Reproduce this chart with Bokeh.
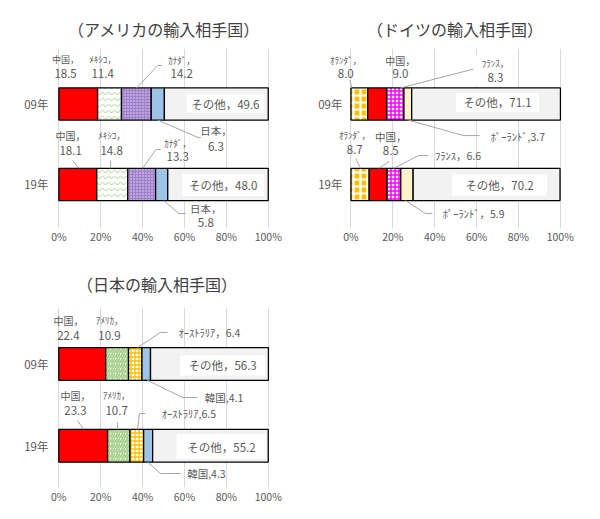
import numpy as np
from bokeh.plotting import figure
from bokeh.models import Range1d, FixedTicker, ColumnDataSource, LabelSet
from bokeh.core.properties import value, field
from bokeh.layouts import column, row
from bokeh.embed import file_html
from bokeh.resources import INLINE

# ---------------- data ----------------
years = ["09年", "19年"]
year_pos = [1, 0]
x_ticks = [0, 20, 40, 60, 80, 100]
x_tick_labels = ["0%", "20%", "40%", "60%", "80%", "100%"]

us_title = "（アメリカの輸入相手国）"
us_names = ["中国", "ﾒｷｼｺ", "ｶﾅﾀﾞ", "日本", "その他"]
us_09 = [18.5, 11.4, 14.2, 6.3, 49.6]
us_19 = [18.1, 14.8, 13.3, 5.8, 48.0]

de_title = "（ドイツの輸入相手国）"
de_names = ["ｵﾗﾝﾀﾞ", "中国", "ﾌﾗﾝｽ", "ﾎﾟｰﾗﾝﾄﾞ", "その他"]
de_09 = [8.0, 9.0, 8.3, 3.7, 71.1]
de_19 = [8.7, 8.5, 6.6, 5.9, 70.2]

jp_title = "（日本の輸入相手国）"
jp_names = ["中国", "ｱﾒﾘｶ", "ｵｰｽﾄﾗﾘｱ", "韓国", "その他"]
jp_09 = [22.4, 10.9, 6.4, 4.1, 56.3]
jp_19 = [23.3, 10.7, 6.5, 4.3, 55.2]

# ---------------- styles ----------------
FONT = "Noto Sans CJK JP"
TXT = "#595959"
RED = dict(fill_color="#FF0000")
BLUE = dict(fill_color="#9DC3E6")
GRAY = dict(fill_color="#F2F2F2")
CREAM = dict(fill_color="#FFF2CC")
WAVE_GREEN = dict(fill_color="white", hatch_pattern="horizontal_wave", hatch_color="#A9D18E", hatch_scale=6, hatch_weight=1)
DOT_PURPLE = dict(fill_color="#A080CC", hatch_pattern="dot", hatch_color="#E8DDF4", hatch_scale=3, hatch_weight=1.2)
CHECK_ORANGE = dict(fill_color="#FFC000", hatch_pattern="cross", hatch_color="white", hatch_scale=7, hatch_weight=2.2)
GRID_MAGENTA = dict(fill_color="white", hatch_pattern="cross", hatch_color="#FF00FF", hatch_scale=4, hatch_weight=1.5)
DIAG_GREEN = dict(fill_color="white", hatch_pattern="right_diagonal_line", hatch_color="#A9D18E", hatch_scale=5, hatch_weight=2)
GRID_YELLOW = dict(fill_color="white", hatch_pattern="cross", hatch_color="#FFC000", hatch_scale=4, hatch_weight=1.3)

us_styles = [RED, WAVE_GREEN, DOT_PURPLE, BLUE, GRAY]
de_styles = [CHECK_ORANGE, RED, GRID_MAGENTA, CREAM, GRAY]
jp_styles = [RED, DIAG_GREEN, GRID_YELLOW, BLUE, GRAY]

# label layout: (year index, segment index, kind, x, y1, y2/sep, name size)
us_labels = [
    (0, 0, "two", 3.2, 1.553, 1.379, "9px"),
    (0, 1, "two", 20.9, 1.553, 1.379, "9px"),
    (0, 2, "two", 58.7, 1.541, 1.379, "9px"),
    (0, 3, "two", 75.0, 0.671, 0.472, "10.5px"),
    (1, 0, "two", 5.6, 0.608, 0.422, "10px"),
    (1, 1, "two", 25.2, 0.608, 0.422, "9px"),
    (1, 2, "two", 56.8, 0.509, 0.347, "9px"),
    (1, 3, "two", 70.2, -0.299, -0.473, "10.5px"),
    (0, 4, "one", 79.5, 1.006, "，", "11.5px"),
    (1, 4, "one", 78.5, -0.006, "，", "11.5px"),
]
us_boxes = [(79.5, 1.006, 77, 18), (78.5, -0.006, 82, 22)]
us_leaders = [
    ([49.2, 47.2, 37.2], [1.479, 1.479, 1.2]),
    ([47.3, 66.4, 67.8], [0.8, 0.584, 0.584]),
    ([6.6, 9.4], [0.298, 0.2]),
    ([24.7, 24.7], [0.298, 0.2]),
    ([48.7, 46.3, 40.0], [0.434, 0.434, 0.2]),
    ([50.1, 57.3, 60.6], [-0.2, -0.361, -0.361]),
]

de_labels = [
    (0, 0, "two", -2.5, 1.541, 1.379, "9px"),
    (0, 1, "two", 23.6, 1.541, 1.379, "10px"),
    (0, 2, "two", 69.0, 1.503, 1.329, "9px"),
    (0, 3, "one", 79.8, 0.596, ",", "10.5px"),
    (1, 0, "two", 1.8, 0.608, 0.434, "9px"),
    (1, 1, "two", 19.0, 0.596, 0.422, "10.5px"),
    (1, 2, "one", 51.2, 0.36, "，", "10.5px"),
    (1, 3, "one", 58.6, -0.361, "，", "10.5px"),
    (0, 4, "one", 70.0, 1.019, "，", "11.5px"),
    (1, 4, "one", 71.0, -0.006, "，", "11.5px"),
]
de_boxes = [(69.0, 1.416, 44, 30), (70.0, 1.019, 83, 19), (71.0, -0.006, 95, 21)]
de_leaders = [
    ([-0.6, 0.4], [1.30, 1.2]),
    ([23.7, 59.5, 60.9], [1.2, 1.441, 1.441]),
    ([27.5, 53.8, 61.5], [0.8, 0.608, 0.608]),
    ([2.3, 4.6], [0.322, 0.2]),
    ([18.2, 13.2], [0.285, 0.2]),
    ([20.4, 32.3, 37.0], [0.2, 0.36, 0.36]),
    ([26.1, 35.6, 38.9], [-0.2, -0.361, -0.361]),
]

jp_labels = [
    (0, 0, "two", 4.6, 1.532, 1.348, "10px"),
    (0, 1, "two", 24.2, 1.532, 1.348, "9px"),
    (0, 2, "one", 71.9, 1.385, "，", "10.5px"),
    (0, 3, "one", 78.9, 0.590, ",", "10.5px"),
    (1, 0, "two", 8.0, 0.615, 0.432, "10px"),
    (1, 1, "two", 27.6, 0.615, 0.432, "9px"),
    (1, 2, "one", 62.1, 0.395, ",", "10.5px"),
    (1, 3, "one", 70.5, -0.339, ",", "10.5px"),
    (0, 4, "one", 78.2, 0.982, "，", "11.5px"),
    (1, 4, "one", 77.7, -0.009, "，", "11.5px"),
]
jp_boxes = [(78.2, 0.982, 85, 20), (77.7, -0.009, 90, 25)]
jp_leaders = [
    ([37.6, 48.5, 51.9], [1.2, 1.385, 1.385]),
    ([42.4, 59.0, 66.2], [0.8, 0.590, 0.590]),
    ([8.9, 11.8], [0.309, 0.2]),
    ([28.0, 28.0], [0.285, 0.2]),
    ([37.6, 38.5, 41.4], [0.2, 0.395, 0.395]),
    ([42.4, 48.5, 58.1], [-0.2, -0.339, -0.339]),
]


def build(title, names, v09, v19, styles, labels, boxes, leaders,
          width, height, x0, ybot, left, top, bottom, y_standoff, x_standoff,
          title_padding):
    p = figure(width=width, height=height, output_backend="svg", toolbar_location=None,
               x_range=Range1d(x0, 100.6), y_range=Range1d(ybot, 1.69),
               min_border_left=left, min_border_right=31,
               min_border_top=top, min_border_bottom=bottom)
    p.outline_line_color = None
    p.background_fill_color = "white"
    p.border_fill_color = "white"
    p.title.text = title
    p.title.align = "center"
    p.title.text_font = FONT
    p.title.text_font_size = "16px"
    p.title.text_font_style = "normal"
    p.title.text_color = "#404040"
    p.title.padding = title_padding

    p.xaxis.ticker = FixedTicker(ticks=x_ticks)
    p.xaxis.major_label_overrides = dict(zip(x_ticks, x_tick_labels))
    p.yaxis.ticker = FixedTicker(ticks=year_pos)
    p.yaxis.major_label_overrides = dict(zip(year_pos, years))
    for ax in (p.xaxis, p.yaxis):
        ax.axis_line_color = None
        ax.major_tick_line_color = None
        ax.minor_tick_line_color = None
        ax.major_tick_in = 0
        ax.major_tick_out = 0
        ax.major_label_text_font = FONT
        ax.major_label_text_color = TXT
    p.xaxis.major_label_text_font_size = "10.5px"
    p.xaxis.major_label_standoff = x_standoff
    p.yaxis.major_label_text_font_size = "11.5px"
    p.yaxis.major_label_standoff = y_standoff
    p.xgrid.grid_line_color = "#D9D9D9"
    p.xgrid.ticker = FixedTicker(ticks=x_ticks)
    p.ygrid.visible = False

    vals = [v09, v19]
    cums = [np.concatenate([[0.0], np.cumsum(v)]) for v in vals]
    for i, st in enumerate(styles):
        p.hbar(y=year_pos, left=[cums[0][i], cums[1][i]],
               right=[cums[0][i + 1], cums[1][i + 1]], height=0.4,
               line_color="black", line_width=1.3, **st)

    p.multi_line(xs=[l[0] for l in leaders], ys=[l[1] for l in leaders],
                 line_color="#A6A6A6", line_width=1)

    p.rect(x=[b[0] for b in boxes], y=[b[1] for b in boxes],
           width=[b[2] for b in boxes], height=[b[3] for b in boxes],
           width_units="screen", height_units="screen",
           fill_color="white", line_color=None)

    xs, ys, texts, sizes = [], [], [], []
    for (yi, si, kind, x, y1, y2, nsize) in labels:
        v = vals[yi][si]
        if kind == "two":
            xs += [x, x]
            ys += [y1, y2]
            texts += [names[si] + "，", f"{v:.1f}"]
            sizes += [nsize, "11.5px"]
        else:
            xs.append(x)
            ys.append(y1)
            texts.append(names[si] + y2 + f"{v:.1f}")
            sizes.append(nsize)
    src = ColumnDataSource(dict(x=xs, y=ys, text=texts, size=sizes))
    p.add_layout(LabelSet(x="x", y="y", text="text", source=src,
                          text_font=value(FONT), text_font_size=field("size"),
                          text_color=TXT, text_align="center", text_baseline="middle"))
    return p


p1 = build(us_title, us_names, us_09, us_19, us_styles, us_labels, us_boxes, us_leaders,
           300, 258, -4.0, -0.547, 50, 48, 30, 2, 0,
           dict(left=8, right=0, top=0, bottom=3))
p2 = build(de_title, de_names, de_09, de_19, de_styles, de_labels, de_boxes, de_leaders,
           292, 258, -11.7, -0.547, 26, 48, 30, -16, 0,
           dict(left=22, right=0, top=0, bottom=3))
p3 = build(jp_title, jp_names, jp_09, jp_19, jp_styles, jp_labels, jp_boxes, jp_leaders,
           300, 260, -3.0, -0.51, 52, 49, 31, 4, 1,
           dict(left=0, right=8, top=0, bottom=7))

layout = column(row(p1, p2), p3)
open("out.html", "w").write(file_html(layout, INLINE))
